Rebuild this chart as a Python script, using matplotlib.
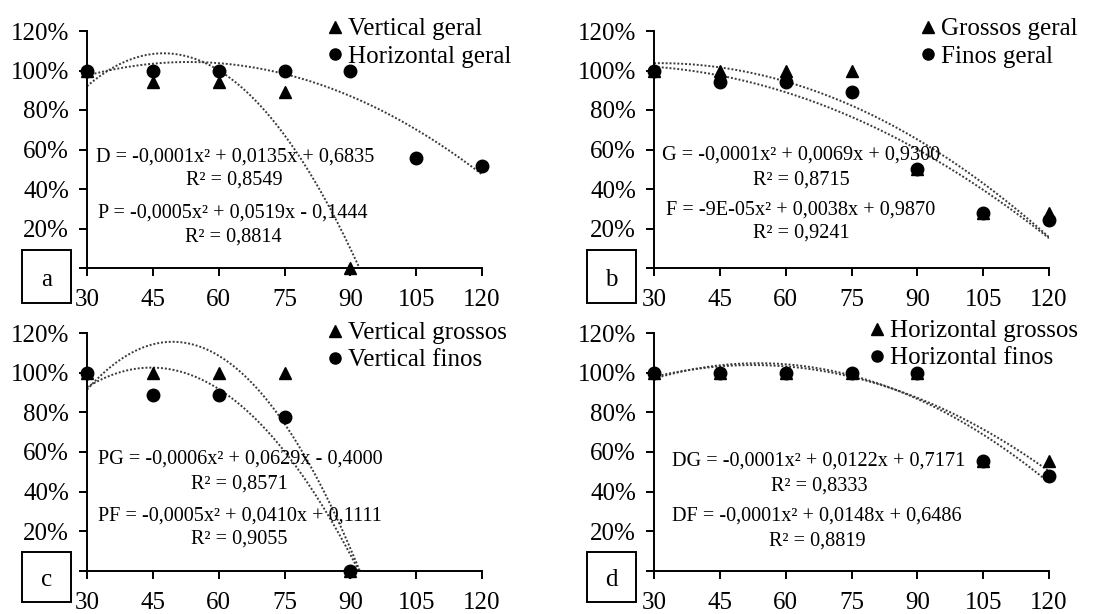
import numpy as np
import matplotlib
matplotlib.use("Agg")
import matplotlib.pyplot as plt
from matplotlib.lines import Line2D
from matplotlib.patches import Rectangle

plt.rcParams['font.family'] = ['Liberation Serif', 'DejaVu Serif']

# ---------------- data ----------------
x_all = [30, 45, 60, 75, 90, 105, 120]
x_vert = [30, 45, 60, 75, 90]
x_ticks = [30, 45, 60, 75, 90, 105, 120]
y_ticks = [0.0, 0.2, 0.4, 0.6, 0.8, 1.0, 1.2]
y_ticklabels = ["", "20%", "40%", "60%", "80%", "100%", "120%"]

a_vertical_geral = [1.0, 0.944, 0.944, 0.889, 0.0]
a_horizontal_geral = [1.0, 1.0, 1.0, 1.0, 1.0, 0.556, 0.518]
b_grossos_geral = [1.0, 1.0, 1.0, 1.0, 0.5, 0.278, 0.278]
b_finos_geral = [1.0, 0.944, 0.944, 0.889, 0.5, 0.278, 0.241]
c_vertical_grossos = [1.0, 1.0, 1.0, 1.0, 0.0]
c_vertical_finos = [1.0, 0.889, 0.889, 0.778, 0.0]
d_horizontal_grossos = [1.0, 1.0, 1.0, 1.0, 1.0, 0.556, 0.556]
d_horizontal_finos = [1.0, 1.0, 1.0, 1.0, 1.0, 0.556, 0.481]

panels = [
    dict(letter="a", tri=(x_vert, a_vertical_geral), cir=(x_all, a_horizontal_geral),
         labels=["Vertical geral", "Horizontal geral"],
         eqs=["D = -0,0001x² + 0,0135x + 0,6835", "R² = 0,8549",
              "P = -0,0005x² + 0,0519x - 0,1444", "R² = 0,8814"]),
    dict(letter="b", tri=(x_all, b_grossos_geral), cir=(x_all, b_finos_geral),
         labels=["Grossos geral", "Finos geral"],
         eqs=["G = -0,0001x² + 0,0069x + 0,9300", "R² = 0,8715",
              "F = -9E-05x² + 0,0038x + 0,9870", "R² = 0,9241"]),
    dict(letter="c", tri=(x_vert, c_vertical_grossos), cir=(x_vert, c_vertical_finos),
         labels=["Vertical grossos", "Vertical finos"],
         eqs=["PG = -0,0006x² + 0,0629x - 0,4000", "R² = 0,8571",
              "PF = -0,0005x² + 0,0410x + 0,1111", "R² = 0,9055"]),
    dict(letter="d", tri=(x_all, d_horizontal_grossos), cir=(x_all, d_horizontal_finos),
         labels=["Horizontal grossos", "Horizontal finos"],
         eqs=["DG = -0,0001x² + 0,0122x + 0,7171", "R² = 0,8333",
              "DF = -0,0001x² + 0,0148x + 0,6486", "R² = 0,8819"]),
]

# ---------------- layout (pixels) ----------------
W, H = 1114, 614
fig = plt.figure(figsize=(W / 100, H / 100), dpi=100)

ax_boxes = [  # left, right, top(y of 120%), bottom(y of 0)
    (87, 482, 31, 268),
    (654, 1049, 31, 268),
    (87, 482, 333, 571),
    (654, 1049, 333, 571),
]
eq_pos = [
    [(0.375, 0.468), (0.372, 0.371), (0.368, 0.232), (0.370, 0.131)],
    [(0.372, 0.476), (0.372, 0.371), (0.372, 0.244), (0.372, 0.147)],
    [(0.387, 0.471), (0.385, 0.366), (0.387, 0.232), (0.385, 0.134)],
    [(0.418, 0.463), (0.418, 0.358), (0.413, 0.232), (0.413, 0.127)],
]
legend_anchor = [(329, 18), (922, 18), (329, 322), (871, 320)]
letter_boxes = [(22, 250, 49, 53), (587, 250, 49, 53), (22, 552, 49, 50), (587, 552, 49, 50)]

fs_tick = 18
fs_eq = 14.6
dot_color = "#3a3a3a"

for i, p in enumerate(panels):
    l, r, t, b = ax_boxes[i]
    ax = fig.add_axes([l / W, 1 - b / H, (r - l) / W, (b - t) / H])
    ax.set_xlim(30, 120)
    ax.set_ylim(0, 1.2)
    for s in ["top", "right"]:
        ax.spines[s].set_visible(False)
    for s in ["left", "bottom"]:
        ax.spines[s].set_linewidth(1.4)
        ax.spines[s].set_color("black")
    ax.set_xticks(x_ticks)
    ax.set_xticklabels([str(v) for v in x_ticks])
    ax.set_yticks(y_ticks)
    ax.set_yticklabels(y_ticklabels)
    ax.tick_params(axis="both", direction="out", length=6, width=1.4, labelsize=fs_tick)
    ax.tick_params(axis="y", pad=7)
    ax.tick_params(axis="x", pad=9)
    ax.patch.set_alpha(0)

    # trend lines (2nd order polynomial fits)
    xx = np.linspace(30, 120, 400)
    for xs, ys in (p["tri"], p["cir"]):
        coef = np.polyfit(np.array(xs, float), np.array(ys, float), 2)
        ax.plot(xx, np.polyval(coef, xx), linestyle=(0, (1, 1)), color=dot_color, lw=1.4, zorder=2)

    ax.plot(p["tri"][0], p["tri"][1], linestyle="none", marker="^", ms=9, color="black",
            clip_on=False, zorder=3)
    ax.plot(p["cir"][0], p["cir"][1], linestyle="none", marker="o", ms=9, color="black",
            clip_on=False, zorder=3)

    for (tx, ty), s in zip(eq_pos[i], p["eqs"]):
        ax.text(tx, ty, s, transform=ax.transAxes, ha="center", va="center", fontsize=fs_eq)

    handles = [Line2D([], [], linestyle="none", marker="^", ms=8, color="black"),
               Line2D([], [], linestyle="none", marker="o", ms=8, color="black")]
    lx, ly = legend_anchor[i]
    fig.legend(handles, p["labels"], loc="upper left", bbox_to_anchor=(lx / W, 1 - ly / H),
               frameon=False, fontsize=fs_tick, borderpad=0, borderaxespad=0,
               handlelength=0.5, handletextpad=0.25, labelspacing=0.18)

    bx, by, bw, bh = letter_boxes[i]
    fig.patches.append(Rectangle((bx / W, 1 - (by + bh) / H), bw / W, bh / H,
                                 transform=fig.transFigure, fill=False, edgecolor="black", lw=1.4))
    fig.text((bx + bw / 2) / W, 1 - (by + bh / 2 + 3) / H, p["letter"], ha="center", va="center",
             fontsize=fs_tick)

fig.savefig("out.png", dpi=100)
